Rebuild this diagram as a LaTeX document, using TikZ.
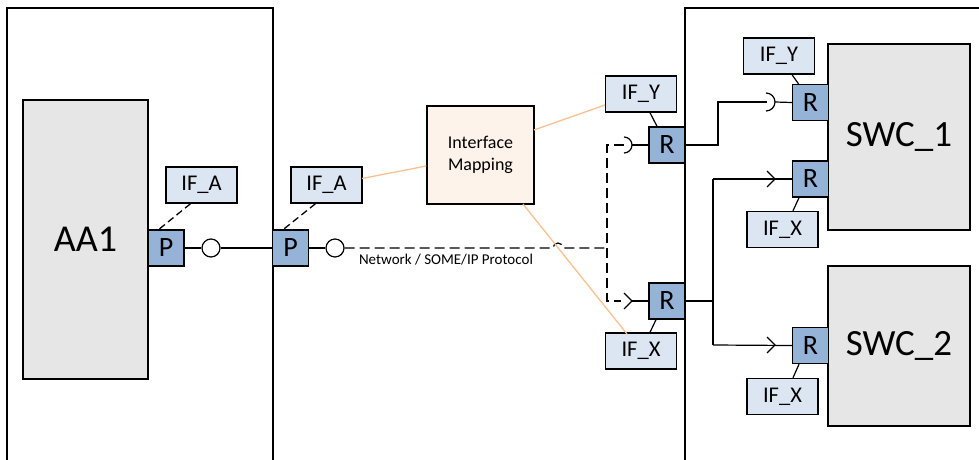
\documentclass[tikz,border=0pt]{standalone}
\usepackage{fontspec}
\setmainfont{Carlito}
\definecolor{portblue}{HTML}{95B3D7}
\definecolor{ifblue}{HTML}{DCE6F2}
\definecolor{swcgray}{HTML}{E6E6E6}
\definecolor{mapfill}{HTML}{FDF3EB}
\definecolor{maporange}{HTML}{FAC08F}
\begin{document}
\begin{tikzpicture}[x=1pt,y=-1pt,
  container/.style={draw=black,line width=1.6pt},
  swc/.style={draw=black,line width=1.4pt,fill=swcgray,inner sep=0pt},
  port/.style={draw=black,line width=1.4pt,fill=portblue,minimum width=36pt,minimum height=36pt,inner sep=0pt,font=\fontsize{28}{28}\selectfont},
  iface/.style={draw=black,line width=1.4pt,fill=ifblue,minimum width=71pt,minimum height=36pt,inner sep=0pt,font=\fontsize{22.5}{22.5}\selectfont},
  conn/.style={draw=black,line width=1.2pt},
  netline/.style={draw=black,line width=1.2pt,dash pattern=on 10pt off 5pt},
  ifdash/.style={draw=black,line width=1.3pt,dash pattern=on 7pt off 4pt},
  mapline/.style={draw=maporange,line width=1.3pt},
  lolli/.style={circle,draw=black,line width=1.2pt,fill=white,minimum size=18pt,inner sep=0pt}
]
\useasboundingbox (0,0) rectangle (979,460);
\clip (0,0) rectangle (979,460);
% containers
\draw[container] (7,470) -- (7,8) -- (273,8) -- (273,470);
\draw[container] (685,470) -- (685,8) -- (990,8);
% software components
\node[swc,minimum width=125pt,minimum height=279pt,font=\fontsize{38}{38}\selectfont] (aa1) at (85.5,239.5) {AA1};
\node[swc,minimum width=142pt,minimum height=186pt,font=\fontsize{37}{37}\selectfont] (swc1) at (899,137) {SWC\_1};
\node[swc,minimum width=142pt,minimum height=160pt,font=\fontsize{37}{37}\selectfont] (swc2) at (899,346) {SWC\_2};
% mapping
\node[draw=black,line width=1.4pt,fill=mapfill,minimum width=107pt,minimum height=98pt,align=center,font=\fontsize{18}{22}\selectfont] (map) at (480.5,155) {Interface\\Mapping};
% ports
\node[port] (p1) at (166,248) {P};
\node[port] (p2) at (290.5,248) {P};
\node[port] (r1) at (667,145) {R};
\node[port] (r2) at (667,301) {R};
\node[port] (r3) at (810.5,102.5) {R};
\node[port] (r4) at (810.5,179) {R};
\node[port] (r5) at (810.5,345.5) {R};
% interfaces
\node[iface] (ifa1) at (201.5,185) {IF\_A};
\node[iface] (ifa2) at (326.5,185) {IF\_A};
\node[iface] (ify1) at (641,94) {IF\_Y};
\node[iface] (ifx1) at (641,351) {IF\_X};
\node[iface] (ify2) at (779,56) {IF\_Y};
\node[iface] (ifx2) at (782.5,229.5) {IF\_X};
\node[iface] (ifx3) at (782.5,396.5) {IF\_X};
% interface to port links
\draw[ifdash] ([xshift=-11pt]ifa1.south) -- ([xshift=-7pt]p1.north);
\draw[ifdash] ([xshift=-11pt]ifa2.south) -- ([xshift=-7pt]p2.north);
\draw[conn] ([xshift=9pt]ify1.south) -- ([xshift=-10pt]r1.north);
\draw[conn] ([xshift=9pt]ifx1.north) -- ([xshift=-11pt]r2.south);
\draw[conn] ([xshift=13pt]ify2.south) -- ([xshift=-12pt]r3.north);
\draw[conn] ([xshift=10.5pt]ifx2.north) -- ([xshift=-11.5pt]r4.south);
\draw[conn] ([xshift=10.5pt]ifx3.north) -- ([xshift=-11.5pt]r5.south);
% provided ports lollipops
\node[lolli] (c1) at (211,248) {};
\node[lolli] (c2) at (335,248) {};
\draw[conn] (p1.east) -- (c1.west);
\draw[conn] (c1.east) -- (p2.west);
\draw[conn] (p2.east) -- (c2.west);
% network line with hop
\coordinate (nc) at (607,248);
\draw[netline] (c2.east) -- (553,248) arc[start angle=180,end angle=360,radius=5] -- (nc);
\coordinate (s1) at (624,145);
\coordinate (k1) at (621,301);
\draw[netline] (s1) -- (607,145) -- (607,301) -- (k1);
% socket on r1
\draw[conn] (624,137) arc[start angle=-90,end angle=90,radius=8];
\draw[conn] (632,145) -- (r1.west);
% chevron on r2
\draw[conn] (624,293) -- (632,301) -- (624,309);
\draw[conn] (632,301) -- (r2.west);
% right side wiring
\coordinate (s3) at (767,102);
\draw[conn] (r1.east) -- (718,145) -- (718,102) -- (s3);
\draw[conn] (766,93) arc[start angle=-90,end angle=90,radius=9];
\draw[conn] (775,102) -- (r3.west);
\draw[conn] (r2.east) -- (713,301);
\draw[conn] (713,179) -- (713,345);
\draw[conn] (713,179) -- (r4.west);
\draw[conn] (767,171) -- (775,179) -- (767,187);
\draw[conn] (713,345) -- (r5.west);
\draw[conn] (767,337) -- (775,345) -- (767,353);
% mapping lines
\draw[mapline] (362,178.5) -- (map.west |- 0,166);
\draw[mapline] (534,130) -- (605,105);
\draw[mapline] (523,204) -- (627,334);
% label
\node[font=\fontsize{15}{15}\selectfont,inner sep=0pt] (netlbl) at (446,260) {Network / SOME/IP Protocol};
\end{tikzpicture}
\end{document}
